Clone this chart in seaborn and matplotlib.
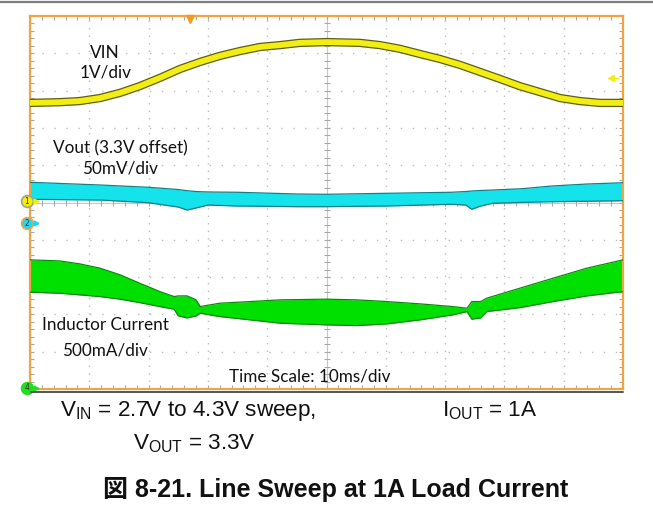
import numpy as np
import matplotlib
matplotlib.use("Agg")
import matplotlib.pyplot as plt
from matplotlib.lines import Line2D
from matplotlib.ticker import MultipleLocator, NullFormatter
import seaborn as sns

# time base: 10 ms/div, 10 divisions across the screen (ms)
t_vin = [0, 5.1, 8.4, 11.8, 15.2, 18.5, 21.9, 25.3, 28.7, 32.0, 35.4, 38.8, 42.2, 45.5,
         50.1, 55.6, 59.0, 62.4, 65.8, 69.1, 72.5, 75.9, 79.3, 82.6, 86.0, 89.4, 92.7,
         96.1, 100]
# VIN in volts (1V/div)
vin = [2.63, 2.65, 2.68, 2.76, 2.90, 3.08, 3.30, 3.54, 3.73, 3.89, 4.02, 4.13, 4.18, 4.24,
       4.26, 4.24, 4.18, 4.08, 3.94, 3.81, 3.65, 3.46, 3.27, 3.08, 2.92, 2.76, 2.68,
       2.63, 2.63]

# Vout ripple band, mV above the 3.3V offset (50mV/div)
t_vout = [0, 12, 20, 25, 26.5, 28, 30, 35, 45, 50, 60, 71, 73.5, 74.5, 76, 78, 83, 88, 94, 100]
vout_hi = [54.6, 50.9, 47.9, 44.9, 43.3, 42.2, 41.6, 41.2, 38.9, 38.5, 39.8, 41.2, 42.2,
           42.9, 43.6, 44.2, 46.0, 49.6, 52.3, 54.0]
vout_lo = [31.8, 30.8, 27.2, 21.4, 17.4, 20.1, 24.1, 22.8, 21.9, 21.9, 22.8, 25.1, 24.1,
           18.4, 22.8, 26.4, 27.7, 28.6, 29.2, 29.9]

# Inductor current band in amps (500mA/div)
t_il = [0, 5, 8.4, 11.8, 15.2, 18.5, 21.9, 24.3, 25, 26.5, 28, 28.7, 32, 37.1, 42.2, 50,
        55.1, 60.2, 65.8, 71.3, 73.7, 74.5, 76, 77, 82.6, 88.2, 93.9, 100]
il_hi = [1.716, 1.702, 1.662, 1.605, 1.515, 1.403, 1.291, 1.224, 1.233, 1.233, 1.180, 1.090,
         1.135, 1.157, 1.180, 1.189, 1.180, 1.157, 1.126, 1.090, 1.068, 1.157, 1.157, 1.202,
         1.336, 1.470, 1.605, 1.716]
il_lo = [1.283, 1.269, 1.247, 1.224, 1.189, 1.143, 1.090, 1.055, 0.965, 0.938, 0.965, 1.001,
         0.956, 0.912, 0.867, 0.845, 0.835, 0.858, 0.912, 0.979, 1.023, 0.921, 0.938, 1.023,
         1.076, 1.157, 1.233, 1.291]

# channel ground levels (in divisions from screen centre) and scales
ch1_gnd, ch1_scale = 0.04, 1.0
ch2_gnd, ch2_scale = -0.55, 50.0
ch4_gnd, ch4_scale = -4.97, 0.5

W, H = 653, 518


def fx(px):
    return px / W


def fy(py):
    return 1 - py / H


sns.set_theme(style="white")
plt.rcParams["mathtext.fontset"] = "custom"
plt.rcParams["mathtext.rm"] = "Liberation Sans"

fig = plt.figure(figsize=(6.53, 5.18), dpi=100)
fig.patch.set_facecolor("white")
ax = fig.add_axes([fx(30), fy(389), fx(623) - fx(30), fy(16) - fy(389)])
ax.set_xlim(0, 100)
ax.set_ylim(-5, 5)
ax.set_facecolor("white")

orange = "#F2A444"
for s in ax.spines.values():
    s.set_color(orange)
    s.set_linewidth(1.6)

# scope graticule
ax.xaxis.set_major_locator(MultipleLocator(10))
ax.xaxis.set_minor_locator(MultipleLocator(2))
ax.yaxis.set_major_locator(MultipleLocator(1))
ax.yaxis.set_minor_locator(MultipleLocator(0.2))
ax.xaxis.set_major_formatter(NullFormatter())
ax.yaxis.set_major_formatter(NullFormatter())
ax.tick_params(which="both", direction="in", length=3, width=0.8, color="#A8A8A8",
               top=True, right=True, bottom=True, left=True,
               labelbottom=False, labelleft=False)
for gx in range(10, 100, 10):
    if gx != 50:
        ax.axvline(gx, color="#BDBDBD", lw=1.0, ls=(0, (1, 4.4)), zorder=0)
for gy in range(-4, 5):
    if gy != 0:
        ax.axhline(gy, color="#BDBDBD", lw=1.0, ls=(0, (1, 7.6)), zorder=0)
ax.axvline(50, color="#C8C8C8", lw=0.8, zorder=0)
ax.axhline(0, color="#C8C8C8", lw=0.8, zorder=0)
ax.plot(np.full(49, 50.0), np.arange(-4.8, 5.0, 0.2), ls="none", marker="_",
        ms=4, mew=0.8, color="#A8A8A8", zorder=0)
ax.plot(np.arange(2, 100, 2), np.zeros(49), ls="none", marker="|",
        ms=4, mew=0.8, color="#A8A8A8", zorder=0)

# channel 4: inductor current band
il_top = ch4_gnd + np.array(il_hi) / ch4_scale
il_bot = ch4_gnd + np.array(il_lo) / ch4_scale
ax.fill_between(t_il, il_bot, il_top, color="#00E000", lw=0, zorder=2)
ax.plot(t_il, il_top, color="#0A8A0A", lw=0.9, zorder=3)
ax.plot(t_il, il_bot, color="#0A8A0A", lw=0.9, zorder=3)

# channel 2: Vout band
vo_top = ch2_gnd + np.array(vout_hi) / ch2_scale
vo_bot = ch2_gnd + np.array(vout_lo) / ch2_scale
ax.fill_between(t_vout, vo_bot, vo_top, color="#14E3EC", lw=0, zorder=2)
ax.plot(t_vout, vo_top, color="#137F86", lw=0.9, zorder=3)
ax.plot(t_vout, vo_bot, color="#137F86", lw=0.9, zorder=3)

# channel 1: VIN trace
vin_div = ch1_gnd + np.array(vin) / ch1_scale
sns.lineplot(x=t_vin, y=vin_div, ax=ax, color="#5E5E10", lw=6.0, zorder=4)
sns.lineplot(x=t_vin, y=vin_div, ax=ax, color="#F2EE12", lw=4.2, zorder=5)

# channel ground markers
for gnd, num, fill, edge in [(ch1_gnd, "1", "#F4F000", "#A0A0A0"),
                              (ch2_gnd, "2", "#22D8F0", orange),
                              (ch4_gnd, "4", "#22DD22", "#22DD22")]:
    ax.plot([-0.55], [gnd], marker="o", ms=8.5, mfc=fill, mec=edge, mew=1.2,
            clip_on=False, zorder=6)
    ax.text(-0.55, gnd, num, fontsize=5.5, ha="center", va="center",
            color="#333333", clip_on=False, zorder=7)
    ax.plot([1.0], [gnd], marker=">", ms=3.5, color=fill, mec=fill,
            clip_on=False, zorder=6)
# trigger position and level
ax.plot([27.0], [4.93], marker="v", ms=6, color="#F59A20", clip_on=False, zorder=6)
ax.plot([98.0], [3.34], marker="<", ms=4.5, color="#F2EE12", clip_on=False, zorder=6)
ax.plot([98.2, 99.4], [3.34, 3.34], color="#F2EE12", lw=0.8, zorder=6)

# frame rules above and below
fig.add_artist(Line2D([0, 1], [fy(1.5), fy(1.5)], color="#7F7F7F", lw=1.6))
fig.add_artist(Line2D([fx(31), fx(623)], [fy(392), fy(392)], color="#555555", lw=1.4))

# scope annotations
lab = dict(family="Lato", fontsize=12.3, color="#111111", ha="center", va="center")
fig.text(fx(105), fy(53), "VIN", **lab)
fig.text(fx(106), fy(73), "1V/div", **lab)
fig.text(fx(120), fy(148), "Vout (3.3V offset)", **lab)
fig.text(fx(120), fy(168), "50mV/div", **lab)
fig.text(fx(105), fy(325), "Inductor Current", **lab)
fig.text(fx(105), fy(350), "500mA/div", **lab)
fig.text(fx(310), fy(376), "Time Scale: 10ms/div", **lab)

# caption
cap = dict(family="Liberation Sans", fontsize=16.2, color="#111111", va="center")
fig.text(fx(60), fy(411), r"$\mathrm{V_{IN}}$ = 2.7V to 4.3V sweep,", ha="left", **cap)
fig.text(fx(442), fy(411), r"$\mathrm{I_{OUT}}$ = 1A", ha="left", **cap)
fig.text(fx(133), fy(444), r"$\mathrm{V_{OUT}}$ = 3.3V", ha="left", **cap)
fig.text(fx(336), fy(490), "図 8-21. Line Sweep at 1A Load Current",
         family=["Liberation Sans", "Noto Sans CJK JP"], fontsize=18, fontweight="bold",
         color="#111111", ha="center", va="center")

fig.savefig("out.png", dpi=100, facecolor="white")
